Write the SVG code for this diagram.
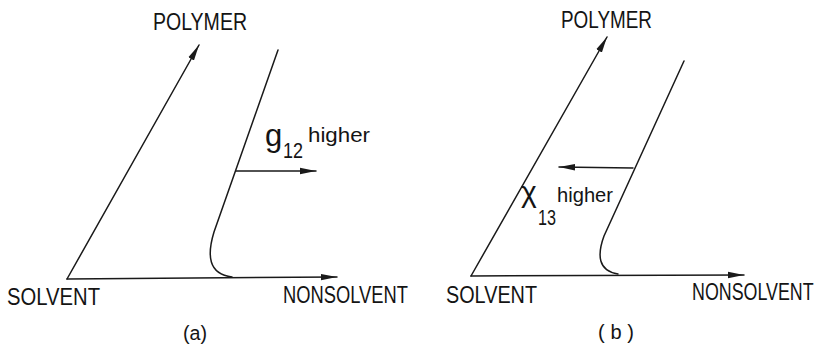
<svg xmlns="http://www.w3.org/2000/svg" width="823" height="347" viewBox="0 0 823 347">
<style>
.ln{fill:none;stroke:#1a1a1a;stroke-width:1.5;stroke-linecap:round}
.t{font-family:"Liberation Sans","DejaVu Sans",sans-serif;fill:#141414}
.cap{font-size:23px}
.hi{font-size:21px}
</style>
<defs>
<marker id="ah" viewBox="0 0 16 8" refX="16" refY="4" markerWidth="16" markerHeight="8" markerUnits="userSpaceOnUse" orient="auto">
<path d="M0,0.8 L16,4 L0,7.2 z" fill="#1a1a1a"/>
</marker>
</defs>
<rect width="823" height="347" fill="#fff"/>
<g id="connectors">
<line class="ln" x1="67" y1="279" x2="199" y2="45" marker-end="url(#ah)"/>
<line class="ln" x1="67" y1="279" x2="337" y2="277" marker-end="url(#ah)"/>
<path class="ln" d="M278,50 L214,232 C207,255 208,274 232,277"/>
<line class="ln" x1="236" y1="171" x2="316" y2="171" marker-end="url(#ah)"/>
<line class="ln" x1="471" y1="276" x2="607" y2="37" marker-end="url(#ah)"/>
<line class="ln" x1="471" y1="276" x2="744" y2="275" marker-end="url(#ah)"/>
<path class="ln" d="M684,61 L604,236 C597,255 598,271 618,274"/>
<line class="ln" x1="633" y1="168" x2="559" y2="167" marker-end="url(#ah)"/>
</g>
<g id="a-polymer"><text class="t cap" x="153" y="30" textLength="94" lengthAdjust="spacingAndGlyphs">POLYMER</text></g>
<g id="a-solvent"><text class="t cap" x="7" y="305" textLength="93" lengthAdjust="spacingAndGlyphs">SOLVENT</text></g>
<g id="a-nonsolvent"><text class="t cap" x="283" y="303" textLength="125" lengthAdjust="spacingAndGlyphs">NONSOLVENT</text></g>
<g id="a-g12">
<text class="t" x="265" y="146" font-size="31">g</text>
<text class="t" x="283" y="158" font-size="22" textLength="20" lengthAdjust="spacingAndGlyphs">12</text>
<text class="t hi" x="308" y="142" textLength="62" lengthAdjust="spacingAndGlyphs">higher</text>
</g>
<g id="a-caption"><text class="t" x="183" y="340" font-size="20" textLength="24" lengthAdjust="spacingAndGlyphs">(a)</text></g>
<g id="b-polymer"><text class="t cap" x="561" y="28" textLength="91" lengthAdjust="spacingAndGlyphs">POLYMER</text></g>
<g id="b-solvent"><text class="t cap" x="446" y="303" textLength="91" lengthAdjust="spacingAndGlyphs">SOLVENT</text></g>
<g id="b-nonsolvent"><text class="t cap" transform="translate(692,300) scale(0.776,1)" x="0" y="0">NONSOLVENT</text></g>
<g id="b-x13">
<text class="t" x="521" y="202" font-size="30">χ</text>
<text class="t" x="538" y="225" font-size="22" textLength="18" lengthAdjust="spacingAndGlyphs">13</text>
<text class="t hi" x="557" y="202" textLength="56" lengthAdjust="spacingAndGlyphs">higher</text>
</g>
<g id="b-caption"><text class="t" x="598" y="339" font-size="20" textLength="36" lengthAdjust="spacing">(b)</text></g>
</svg>
